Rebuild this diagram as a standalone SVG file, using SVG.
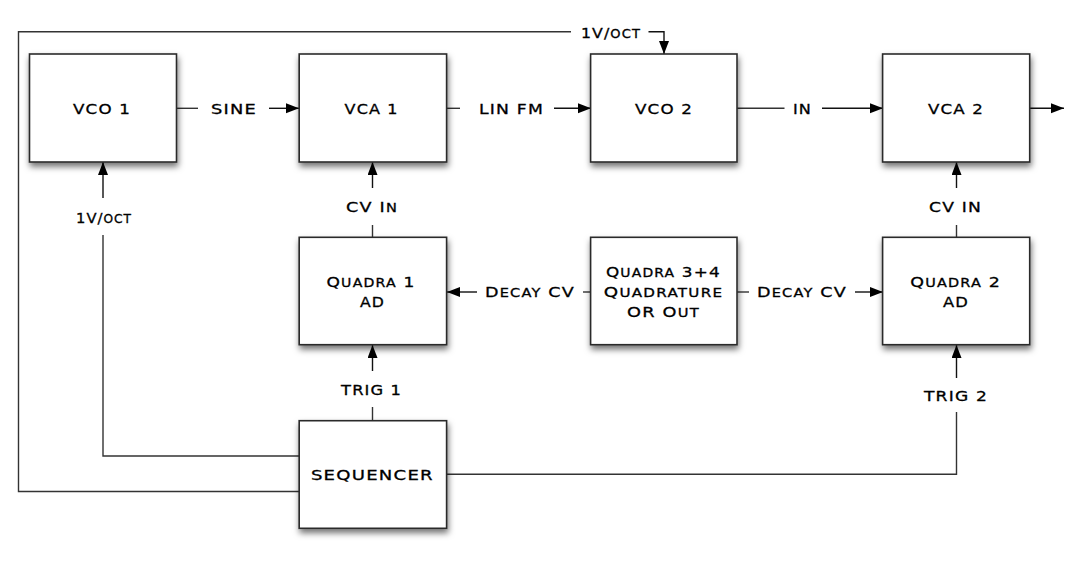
<svg xmlns="http://www.w3.org/2000/svg" width="1080" height="561" viewBox="0 0 1080 561">
<defs>
<filter id="sh" x="-10%" y="-10%" width="125%" height="130%">
<feDropShadow dx="1" dy="4" stdDeviation="3" flood-color="#000" flood-opacity="0.55"/>
</filter>
<marker id="ah" markerUnits="userSpaceOnUse" markerWidth="14" markerHeight="11" refX="13" refY="5" orient="auto">
<path d="M0,0 L13,5 L0,10 z" fill="#000"/>
</marker>
<style>
.box{fill:#fff;stroke:#2a2a2a;stroke-width:1.6;filter:url(#sh)}
.ln{fill:none;stroke:#333;stroke-width:1.4}
.ar{fill:none;stroke:#111;stroke-width:1.4;marker-end:url(#ah)}
text{font-family:"DejaVu Sans","Liberation Sans",sans-serif;font-size:14.5px;letter-spacing:1px;fill:#000;stroke:#000;stroke-width:0.3;text-anchor:middle;font-variant:small-caps}
.s{font-size:17px}
</style>
</defs>
<rect width="1080" height="561" fill="#fff"/>
<g id="connectors">
<path class="ln" d="M299,491.5 H18.5 V31.7 H571"/>
<path class="ar" d="M648.5,31.7 H664 V54"/>
<path class="ln" d="M299,456 H103 V235"/>
<path class="ar" d="M103,198 V162"/>
<path class="ln" d="M176,108.3 H198"/>
<path class="ar" d="M269,108.3 H299"/>
<path class="ln" d="M447,108.3 H460"/>
<path class="ar" d="M554,108.3 H591"/>
<path class="ln" d="M737,108.3 H784.5"/>
<path class="ar" d="M822,108.3 H883"/>
<path class="ar" d="M1030,108.3 H1064"/>
<path class="ln" d="M372.5,237 V225"/>
<path class="ar" d="M372.5,188 V162"/>
<path class="ln" d="M956.5,237 V225"/>
<path class="ar" d="M956.5,188 V162"/>
<path class="ln" d="M591,292 H583"/>
<path class="ar" d="M477,292 H447"/>
<path class="ln" d="M737,292 H749"/>
<path class="ar" d="M855,292 H883"/>
<path class="ln" d="M372.5,421 V407"/>
<path class="ar" d="M372.5,371 V345"/>
<path class="ln" d="M447,474.3 H956.5 V412"/>
<path class="ar" d="M956.5,378 V345"/>
<text x="611" y="37.7" textLength="60" lengthAdjust="spacingAndGlyphs">1V/<tspan class="s">oct</tspan></text>
<text x="104" y="223.3" textLength="56" lengthAdjust="spacingAndGlyphs">1V/<tspan class="s">oct</tspan></text>
<text x="234" y="114" textLength="46" lengthAdjust="spacingAndGlyphs">SINE</text>
<text x="511.5" y="114" textLength="65" lengthAdjust="spacingAndGlyphs">LIN FM</text>
<text x="802.5" y="114" textLength="19" lengthAdjust="spacingAndGlyphs">IN</text>
<text x="372" y="211.7" textLength="52" lengthAdjust="spacingAndGlyphs">CV I<tspan class="s">n</tspan></text>
<text x="955.5" y="211.7" textLength="53" lengthAdjust="spacingAndGlyphs">CV IN</text>
<text x="530" y="296.7" textLength="90" lengthAdjust="spacingAndGlyphs">D<tspan class="s">ecay</tspan> CV</text>
<text x="802" y="296.7" textLength="90" lengthAdjust="spacingAndGlyphs">D<tspan class="s">ecay</tspan> CV</text>
<text x="371.6" y="395" textLength="61" lengthAdjust="spacingAndGlyphs">TRIG 1</text>
<text x="956" y="401" textLength="64" lengthAdjust="spacingAndGlyphs">TRIG 2</text>
</g>
<g id="vco1">
<rect class="box" x="29.5" y="54" width="147" height="108"/>
<text x="102" y="114" textLength="58" lengthAdjust="spacingAndGlyphs">VCO 1</text>
</g>
<g id="vca1">
<rect class="box" x="299.2" y="54" width="147.4" height="108"/>
<text x="371.6" y="114" textLength="54" lengthAdjust="spacingAndGlyphs">VCA 1</text>
</g>
<g id="vco2">
<rect class="box" x="590.6" y="54" width="146.4" height="108"/>
<text x="664" y="114" textLength="58" lengthAdjust="spacingAndGlyphs">VCO 2</text>
</g>
<g id="vca2">
<rect class="box" x="882.6" y="54" width="147.1" height="108"/>
<text x="956" y="114" textLength="56" lengthAdjust="spacingAndGlyphs">VCA 2</text>
</g>
<g id="quadra1">
<rect class="box" x="299.2" y="237.3" width="147.4" height="107.4"/>
<text x="371" y="287.3" textLength="89" lengthAdjust="spacingAndGlyphs">Q<tspan class="s">uadra</tspan> 1</text>
<text x="372.4" y="306.7" textLength="25" lengthAdjust="spacingAndGlyphs">AD</text>
</g>
<g id="quadra34">
<rect class="box" x="590.6" y="237.3" width="146.4" height="107.4"/>
<text x="663.4" y="277.3" textLength="115" lengthAdjust="spacingAndGlyphs">Q<tspan class="s">uadra</tspan> 3+4</text>
<text x="663.5" y="297.3" textLength="119.5" lengthAdjust="spacingAndGlyphs">Q<tspan class="s">uadrature</tspan></text>
<text x="663.5" y="316.7" textLength="73" lengthAdjust="spacingAndGlyphs">OR O<tspan class="s">ut</tspan></text>
</g>
<g id="quadra2">
<rect class="box" x="882.6" y="237.3" width="147.1" height="107.4"/>
<text x="955.7" y="287.3" textLength="91" lengthAdjust="spacingAndGlyphs">Q<tspan class="s">uadra</tspan> 2</text>
<text x="956" y="307" textLength="26" lengthAdjust="spacingAndGlyphs">AD</text>
</g>
<g id="sequencer">
<rect class="box" x="299.2" y="420.7" width="147.4" height="107.6"/>
<text x="372.4" y="480" textLength="123" lengthAdjust="spacingAndGlyphs">SEQUENCER</text>
</g>
</svg>
